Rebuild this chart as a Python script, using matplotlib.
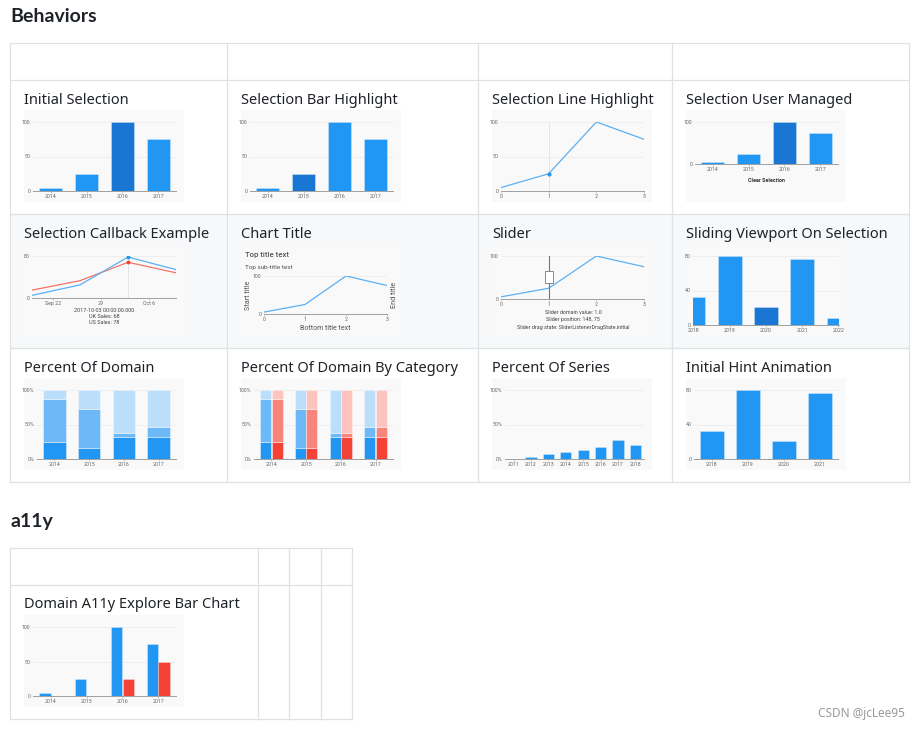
import matplotlib.pyplot as plt
import numpy as np
from matplotlib.patches import Rectangle

plt.rcParams['font.family'] = ['Noto Sans', 'DejaVu Sans']

years = ['2014', '2015', '2016', '2017']
sales = [5, 25, 100, 75]
line_x = [0, 1, 2, 3]
a11y_red = [0, 0, 25, 50]

cb_dates = np.array(['2017-09-19', '2017-09-26', '2017-10-03', '2017-10-10'], dtype='datetime64[D]')
us_sales = [5, 25, 78, 54]
uk_sales = [15, 33, 68, 48]
cb_ticks = np.array(['2017-09-22', '2017-09-29', '2017-10-06'], dtype='datetime64[D]')
cb_tick_labels = ['Sep 22', '29', 'Oct 6']

vp_years = ['2018', '2019', '2020', '2021', '2022']
vp_sales = [33, 80, 21, 77, 8]

desktop = [5, 25, 100, 75]
tablet = [25, 50, 10, 20]
mobile = [10, 15, 50, 45]

series_years = ['2011', '2012', '2013', '2014', '2015', '2016', '2017', '2018']
series_sales = [5, 25, 50, 75, 100, 125, 200, 150]

BLUE = '#2196f3'
DARK = '#1976d2'
RED = '#f44336'
LBLUE = '#5db0f2'
LRED = '#f2736b'
BLUE_SHADES = [BLUE, '#6db8f7', '#bbdefb']
RED_SHADES = [RED, '#f8847c', '#fdc3bf']

W, H = 921, 731
fig = plt.figure(figsize=(W / 100, H / 100), dpi=100)
page = fig.add_axes([0, 0, 1, 1])
page.set_xlim(0, W)
page.set_ylim(H, 0)
page.axis('off')

GRID = '#dfe2e5'
TXT = '#1f2328'


def table(cols, rows, shaded=None):
    if shaded is not None:
        page.add_patch(Rectangle((cols[0], rows[shaded]), cols[-1] - cols[0],
                                 rows[shaded + 1] - rows[shaded], color='#f6f8fa', lw=0))
    for y in rows:
        page.plot([cols[0], cols[-1]], [y, y], color=GRID, lw=0.9)
    for x in cols:
        page.plot([x, x], [rows[0], rows[-1]], color=GRID, lw=0.9)


def style(ax, yticks, ylabels=None):
    ax.set_facecolor('none')
    for s in ('top', 'right', 'left'):
        ax.spines[s].set_visible(False)
    ax.spines['bottom'].set_color('#a0a0a0')
    ax.spines['bottom'].set_linewidth(0.7)
    ax.set_yticks(yticks)
    ax.set_yticklabels(ylabels if ylabels else [str(v) for v in yticks])
    ax.set_ylim(yticks[0], yticks[-1])
    ax.tick_params(labelsize=3.8, labelcolor='#666666', color='#a0a0a0', width=0.4)
    ax.tick_params(axis='x', length=1.2, pad=1)
    ax.tick_params(axis='y', length=0, pad=2)
    for lab in ax.get_xticklabels() + ax.get_yticklabels():
        lab.set_family('Roboto')
    ax.grid(axis='y', color='#ececec', lw=0.6)
    ax.set_axisbelow(True)


def cell(cx, ry, caption, box, yticks, ylabels=None):
    page.text(cx + 14, ry + 20, caption, fontsize=10.5, va='center', color=TXT)
    tx, ty = cx + 14, ry + 30
    page.add_patch(Rectangle((tx, ty), 160, 92, color='#f9f9f9', lw=0))
    l, t, w, h = box
    ax = fig.add_axes([(tx + l) / W, 1 - (ty + t + h) / H, w / W, h / H])
    style(ax, yticks, ylabels)
    return ax, tx, ty


def bars(ax, labels, values, selected=None, **kw):
    cols = [DARK if i == selected else BLUE for i in range(len(values))]
    ax.bar(labels, values, width=0.65, color=cols, edgecolor='#ffffff80', lw=0.4, **kw)
    ax.set_xlim(-0.5, len(labels) - 0.5)


def tiny(x, y, s, **kw):
    kw.setdefault('fontsize', 3.9)
    kw.setdefault('color', '#444444')
    page.text(x, y, s, ha='center', va='center', family='Roboto', **kw)


# ---- headings ----
page.text(10, 17, 'Behaviors', fontsize=14, fontweight='bold', family=['Lato', 'DejaVu Sans'],
          va='center', color=TXT)
page.text(10, 521, 'a11y', fontsize=14, fontweight='bold', family=['Lato', 'DejaVu Sans'],
          va='center', color=TXT)

cols = [10, 227, 478, 672, 909]
rows = [43, 80, 214, 348, 482]
table(cols, rows, shaded=2)
table([10, 258, 289, 321, 352], [548, 585, 719])

BAR_BOX = (9, 12, 143, 69)
PCT_BOX = (13, 12, 139, 69)

# row 1
ax, tx, ty = cell(cols[0], rows[1], 'Initial Selection', BAR_BOX, [0, 50, 100])
bars(ax, years, sales, selected=2)

ax, tx, ty = cell(cols[1], rows[1], 'Selection Bar Highlight', BAR_BOX, [0, 50, 100])
bars(ax, years, sales, selected=1)

ax, tx, ty = cell(cols[2], rows[1], 'Selection Line Highlight', BAR_BOX, [0, 50, 100])
ax.axvline(line_x[1], color='#dddddd', lw=0.5)
ax.plot(line_x, sales, color=LBLUE, lw=0.9)
ax.plot(line_x[1], sales[1], 'o', color=BLUE, ms=2)
ax.set_xlim(0, 3)
ax.set_xticks(line_x)

ax, tx, ty = cell(cols[3], rows[1], 'Selection User Managed', (9, 12, 143, 42), [0, 100])
bars(ax, years, sales, selected=2)
tiny(tx + 80, ty + 71, 'Clear Selection', fontweight='bold', color='#333333')

# row 2
ax, tx, ty = cell(cols[0], rows[2], 'Selection Callback Example', (8, 12, 144, 42), [0, 80])
ax.axvline(cb_dates[2], color='#dddddd', lw=0.5)
ax.plot(cb_dates, uk_sales, color=LRED, lw=0.9)
ax.plot(cb_dates, us_sales, color=LBLUE, lw=0.9)
ax.plot(cb_dates[2], uk_sales[2], 'o', color=RED, ms=1.8)
ax.plot(cb_dates[2], us_sales[2], 'o', color=BLUE, ms=1.8)
ax.set_xlim(cb_dates[0], cb_dates[-1])
ax.set_xticks(cb_ticks)
ax.set_xticklabels(cb_tick_labels, family='Roboto')
tiny(tx + 80, ty + 67, '2017-10-03 00:00:00.000', fontsize=4.0)
tiny(tx + 80, ty + 73, f'UK Sales: {uk_sales[2]}', fontsize=4.0)
tiny(tx + 80, ty + 79, f'US Sales: {us_sales[2]}', fontsize=4.0)

ax, tx, ty = cell(cols[1], rows[2], 'Chart Title', (23, 32, 123, 38), [0, 100])
ax.plot(line_x, sales, color=LBLUE, lw=0.9)
ax.set_xlim(0, 3)
ax.set_xticks(line_x)
page.text(tx + 4, ty + 11, 'Top title text', fontsize=5.6, color='#555555', family='Roboto',
          fontweight='medium', va='center')
page.text(tx + 4, ty + 23, 'Top sub-title text', fontsize=4.6, color='#555555', family='Roboto',
          va='center')
page.text(tx + 7, ty + 51, 'Start title', fontsize=5.2, color='#555555', family='Roboto',
          rotation=90, ha='center', va='center')
page.text(tx + 153, ty + 51, 'End title', fontsize=5.2, color='#555555', family='Roboto',
          rotation=90, ha='center', va='center')
page.text(tx + 84, ty + 84, 'Bottom title text', fontsize=5.0, color='#555555', family='Roboto',
          ha='center', va='center')

ax, tx, ty = cell(cols[2], rows[2], 'Slider', (9, 12, 143, 43), [0, 100])
slider_value = 1.0
ax.plot(line_x, sales, color=LBLUE, lw=0.9)
ax.axvline(slider_value, color='#777777', lw=0.8)
ax.add_patch(Rectangle((slider_value - 0.085, 37), 0.17, 29, facecolor='white',
                       edgecolor='#777777', lw=0.6, zorder=5))
ax.set_xlim(0, 3)
ax.set_xticks(line_x)
tiny(tx + 81, ty + 68, f'Slider domain value: {slider_value}')
tiny(tx + 81, ty + 76, 'Slider position: 148, 75')
tiny(tx + 81, ty + 84, 'Slider drag state: SliderListenerDragState.initial')

ax, tx, ty = cell(cols[3], rows[2], 'Sliding Viewport On Selection', (7, 12, 146, 69), [0, 40, 80])
bars(ax, vp_years, vp_sales, selected=2)
ax.set_xlim(-0.02, len(vp_years) - 0.98)

# row 3
pct_ticks, pct_labels = [0, 50, 100], ['0%', '50%', '100%']


def stack_shares(*series):
    # share of each series within a domain value
    tot = np.sum(series, axis=0)
    return [np.array(s) / tot * 100 for s in series]


ax, tx, ty = cell(cols[0], rows[3], 'Percent Of Domain', PCT_BOX, pct_ticks, pct_labels)
bottom = np.zeros(len(years))
for vals, c in zip(stack_shares(mobile, tablet, desktop), BLUE_SHADES):
    ax.bar(years, vals, bottom=bottom, width=0.65, color=c, edgecolor='#ffffffb0', lw=0.4)
    bottom += vals
ax.set_xlim(-0.5, 3.5)

ax, tx, ty = cell(cols[1], rows[3], 'Percent Of Domain By Category', PCT_BOX, pct_ticks, pct_labels)
xi = np.arange(len(years))
for off, shades in ((-0.165, BLUE_SHADES), (0.165, RED_SHADES)):
    bottom = np.zeros(len(years))
    for vals, c in zip(stack_shares(mobile, tablet, desktop), shades):
        ax.bar(xi + off, vals, bottom=bottom, width=0.32, color=c, edgecolor='#ffffffb0', lw=0.4)
        bottom += vals
ax.set_xticks(xi)
ax.set_xticklabels(years, family='Roboto')
ax.set_xlim(-0.5, 3.5)

ax, tx, ty = cell(cols[2], rows[3], 'Percent Of Series', PCT_BOX, pct_ticks, pct_labels)
series_pct = np.array(series_sales) / np.sum(series_sales) * 100
bars(ax, series_years, series_pct)

ax, tx, ty = cell(cols[3], rows[3], 'Initial Hint Animation', (8, 12, 144, 69), [0, 40, 80])
bars(ax, vp_years[:4], vp_sales[:4])

# a11y
ax, tx, ty = cell(10, 585, 'Domain A11y Explore Bar Chart', BAR_BOX, [0, 50, 100])
xi = np.arange(len(years))
ax.bar(xi - 0.165, sales, width=0.32, color=BLUE, edgecolor='#ffffff80', lw=0.4)
red_idx = [i for i, v in enumerate(a11y_red) if v > 0]
ax.bar(xi[red_idx] + 0.165, [a11y_red[i] for i in red_idx], width=0.32, color=RED,
       edgecolor='#ffffff80', lw=0.4)
ax.set_xticks(xi)
ax.set_xticklabels(years, family='Roboto')
ax.set_xlim(-0.5, 3.5)

page.text(905, 714, 'CSDN @jcLee95', fontsize=8.5, color='#9a9a9a', ha='right', va='center')

fig.savefig('out.png', dpi=100, facecolor='white')
